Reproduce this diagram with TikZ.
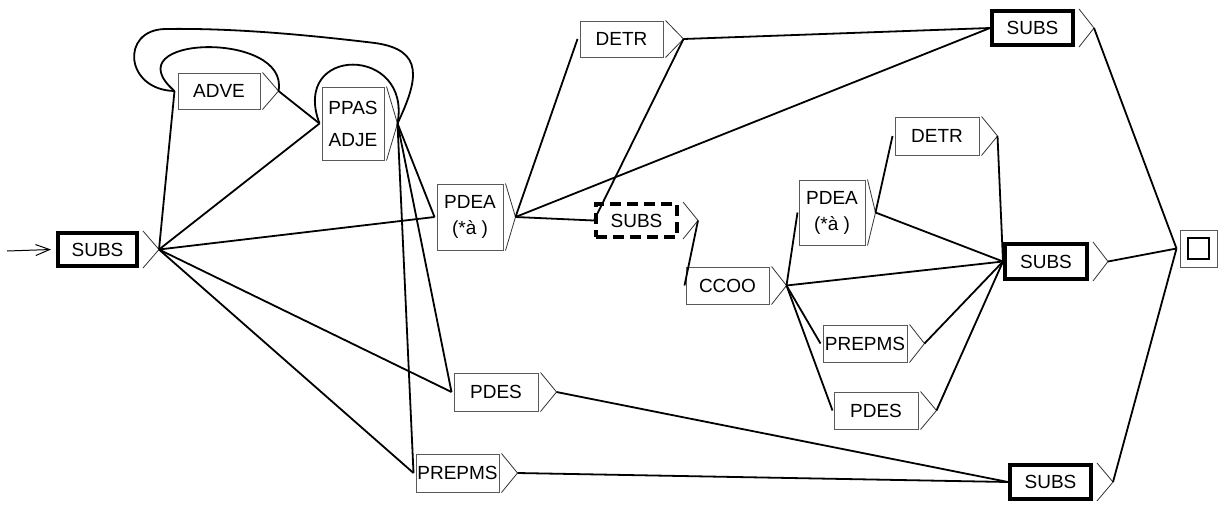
\documentclass[tikz,border=0pt]{standalone}
\usepackage{fontspec}
\setmainfont{Liberation Sans}
\usetikzlibrary{arrows.meta}
\newcommand\mytri[3]{\draw[tri] ([xshift=#3]#1.north east) -- ([xshift=#2]#1.east) coordinate (#1-o) -- ([xshift=#3]#1.south east);}
\newcommand\myin[2]{\coordinate (#1-i) at ([xshift=#2]#1.west);}
\begin{document}
\begin{tikzpicture}[x=1pt,y=-1pt,
 box/.style={draw=black!65, line width=1pt, inner sep=0pt, font=\fontsize{19}{23}\selectfont, align=center},
 tbox/.style={draw=black, line width=4pt, inner sep=0pt, font=\fontsize{19}{23}\selectfont, align=center},
 dbox/.style={tbox, dash pattern=on 11pt off 6pt},
 tri/.style={draw=black!80, line width=0.8pt},
 edge/.style={draw=black, line width=1.8pt},
]
\useasboundingbox (0,0) rectangle (1225,504);
% states
\node[tbox, minimum width=79pt, minimum height=33pt] (s0) at (97.5,249.5) {SUBS};
\node[box, minimum width=82pt, minimum height=36pt] (adve) at (219,91) {ADVE};
\node[box, minimum width=62pt, minimum height=73pt] (ppas) at (353,123.5) {PPAS\\[9pt]ADJE};
\node[box, minimum width=66pt, minimum height=66pt] (pdea) at (470,217) {PDEA\\[3pt](*à )};
\node[box, minimum width=83pt, minimum height=36pt] (detr) at (621.5,39) {DETR};
\node[dbox, minimum width=81pt, minimum height=33pt] (subd) at (636.5,220.5) {SUBS};
\node[box, minimum width=83pt, minimum height=37pt] (ccoo) at (727.5,285.5) {CCOO};
\node[box, minimum width=66pt, minimum height=65pt] (pdeab) at (832,212.5) {PDEA\\[3pt](*à )};
\node[box, minimum width=84pt, minimum height=38pt] (detrb) at (937,136) {DETR};
\node[tbox, minimum width=82pt, minimum height=35pt] (subm) at (1046,261.5) {SUBS};
\node[box, minimum width=84pt, minimum height=37pt] (prepb) at (865,343.5) {PREPMS};
\node[box, minimum width=84pt, minimum height=37pt] (pdesb) at (876,410.5) {PDES};
\node[tbox, minimum width=81pt, minimum height=34pt] (subt) at (1032.5,28) {SUBS};
\node[tbox, minimum width=81pt, minimum height=34pt] (subb) at (1050.5,482) {SUBS};
\node[box, minimum width=84pt, minimum height=38pt] (pdes) at (496,392) {PDES};
\node[box, minimum width=83pt, minimum height=38pt] (prep) at (457.5,473) {PREPMS};
\node[draw=black!65, line width=1pt, minimum size=37pt, inner sep=0pt] (fin) at (1198.5,248.5) {};
\node[draw=black, line width=1.6pt, minimum size=21pt, inner sep=0pt] (finin) at (fin.center) {};
% triangles (outputs)
\mytri{s0}{20pt}{4pt}
\mytri{adve}{18pt}{2pt}
\mytri{ppas}{13pt}{2pt}
\mytri{pdea}{12pt}{2pt}
\mytri{detr}{20pt}{2pt}
\mytri{subd}{19pt}{4pt}
\mytri{ccoo}{17pt}{2pt}
\mytri{pdeab}{10pt}{2pt}
\mytri{detrb}{18pt}{2pt}
\mytri{subm}{19pt}{4pt}
\mytri{prepb}{17pt}{2pt}
\mytri{pdesb}{18pt}{2pt}
\mytri{subt}{19pt}{4pt}
\mytri{subb}{20pt}{4pt}
\mytri{pdes}{18pt}{2pt}
\mytri{prep}{18pt}{2pt}
% inputs
\myin{adve}{-3pt}
\myin{ppas}{-2pt}
\myin{pdea}{-2pt}
\myin{detr}{-2pt}
\myin{subd}{0pt}
\myin{ccoo}{-1pt}
\myin{pdeab}{-1pt}
\myin{detrb}{-2pt}
\myin{subm}{0pt}
\myin{prepb}{-2pt}
\myin{pdesb}{-1pt}
\myin{subt}{0pt}
\myin{subb}{0pt}
\myin{pdes}{-2pt}
\myin{prep}{-2pt}
\coordinate (fin-i) at ([xshift=-3pt]fin.west);
% initial arrow
\coordinate (st) at (7,251);
\draw[line width=1pt, -{Straight Barb[length=14pt,width=11pt]}] (st) -- ([xshift=-5pt]s0.west);
% transitions
\draw[edge] (s0-o) -- (adve-i);
\draw[edge] (s0-o) -- (ppas-i);
\draw[edge] (s0-o) -- (pdea-i);
\draw[edge] (s0-o) -- (pdes-i);
\draw[edge] (s0-o) -- (prep-i);
\draw[edge] (adve-o) -- (ppas-i);
\draw[edge] (ppas-o) -- (pdea-i);
\draw[edge] (ppas-o) -- (pdes-i);
\draw[edge] (ppas-o) -- (prep-i);
\draw[edge] (pdea-o) -- (detr-i);
\draw[edge] (pdea-o) -- (subt-i);
\draw[edge] (pdea-o) -- (subd-i);
\draw[edge] (detr-o) -- (subt-i);
\draw[edge] (detr-o) -- (subd-i);
\draw[edge] (subd-o) -- (ccoo-i);
\draw[edge] (ccoo-o) -- (pdeab-i);
\draw[edge] (ccoo-o) -- (subm-i);
\draw[edge] (ccoo-o) -- (prepb-i);
\draw[edge] (ccoo-o) -- (pdesb-i);
\draw[edge] (pdeab-o) -- (detrb-i);
\draw[edge] (pdeab-o) -- (subm-i);
\draw[edge] (detrb-o) -- (subm-i);
\draw[edge] (prepb-o) -- (subm-i);
\draw[edge] (pdesb-o) -- (subm-i);
\draw[edge] (subt-o) -- (fin-i);
\draw[edge] (subm-o) -- (fin-i);
\draw[edge] (subb-o) -- (fin-i);
\draw[edge] (pdes-o) -- (subb-i);
\draw[edge] (prep-o) -- (subb-i);
% loops
\draw[edge] (adve-o) .. controls (290,30) and (110,35) .. (adve-i);
\draw[edge] (ppas-o) .. controls (412,45) and (290,45) .. (ppas-i);
\draw[edge] (ppas-o) .. controls (418,80) and (425,50) .. (375,43)
  .. controls (300,34) and (230,28) .. (165,29)
  .. controls (120,30) and (125,90) .. (adve-i);
\end{tikzpicture}
\end{document}
